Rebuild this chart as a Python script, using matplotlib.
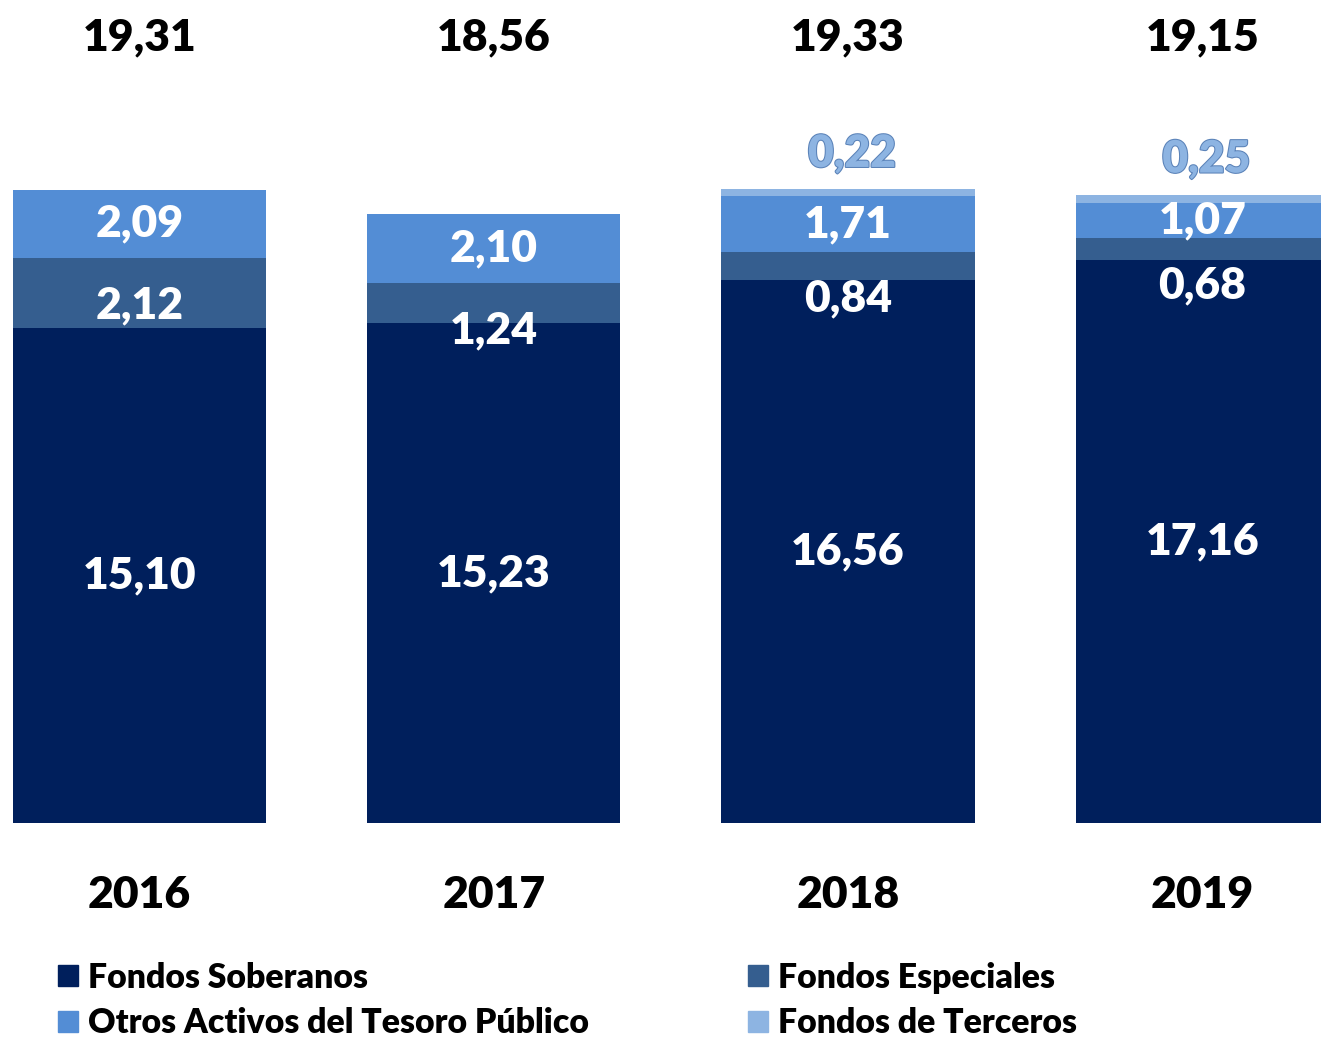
import matplotlib.pyplot as plt
import matplotlib.patheffects as pe
from matplotlib.patches import Patch
import numpy as np

plt.rcParams['font.family'] = ['Lato', 'DejaVu Sans']
plt.rcParams['font.weight'] = 'heavy'

# Data (miles de millones)
years = ['2016', '2017', '2018', '2019']
soberanos = [15.10, 15.23, 16.56, 17.16]
especiales = [2.12, 1.24, 0.84, 0.68]
otros = [2.09, 2.10, 1.71, 1.07]
terceros = [0.0, 0.0, 0.22, 0.25]
totales = [19.31, 18.56, 19.33, 19.15]

c_sob = '#001F5C'
c_esp = '#355E8F'
c_otr = '#538DD5'
c_ter = '#8DB4E2'

def fmt(v):
    return '{:.2f}'.format(v).replace('.', ',')

x = np.arange(len(years))
width = 0.715

fig = plt.figure(figsize=(13.21, 10.43), dpi=100)
ax = fig.add_axes([0, 0.2109, 1, 0.7891])

b1 = np.array(soberanos)
b2 = b1 + np.array(especiales)
b3 = b2 + np.array(otros)

ax.bar(x, soberanos, width, color=c_sob)
ax.bar(x, especiales, width, bottom=b1, color=c_esp)
ax.bar(x, otros, width, bottom=b2, color=c_otr)
ax.bar(x, terceros, width, bottom=b3, color=c_ter)

ax.set_xlim(-0.394, 3.335)
ax.set_ylim(0, 25.09)
ax.axis('off')

fs = 32
# soberanos labels (centered)
for i, v in enumerate(soberanos):
    ax.text(x[i], v / 2, fmt(v), ha='center', va='center', color='white', fontsize=fs)

# especiales labels (placed a bit below the segment middle)
esp_shift = [12, 27, 32, 36]
for i, v in enumerate(especiales):
    ax.annotate(fmt(v), xy=(x[i], b1[i] + v / 2), xytext=(0, -esp_shift[i]),
                textcoords='offset pixels', ha='center', va='center',
                color='white', fontsize=fs)

# otros labels
for i, v in enumerate(otros):
    ax.text(x[i], b2[i] + v / 2, fmt(v), ha='center', va='center', color='white', fontsize=fs)

# terceros labels (above bar, outlined)
for i, v in enumerate(terceros):
    if v > 0:
        t = ax.annotate(fmt(v), xy=(x[i], b3[i] + v), xytext=(4, 35),
                        textcoords='offset pixels', ha='center', va='center',
                        color=c_ter, fontsize=fs)
        t.set_path_effects([pe.withStroke(linewidth=1.5, foreground='#5A82B8')])

# totals at the top
for i, v in enumerate(totales):
    ax.text(x[i], 0.955, fmt(v), transform=ax.get_xaxis_transform(),
            ha='center', va='center', color='black', fontsize=fs)

# year labels under the bars
for i, y in enumerate(years):
    ax.text(x[i], -0.088, y, transform=ax.get_xaxis_transform(),
            ha='center', va='center', color='black', fontsize=fs)

# legend in two columns
lkw = dict(frameon=False, fontsize=24.3, handlelength=0.6, handleheight=0.6,
           handletextpad=0.3, labelspacing=0.40, borderaxespad=0, borderpad=0)
fig.legend([Patch(color=c_sob), Patch(color=c_otr)],
           ['Fondos Soberanos', 'Otros Activos del Tesoro Público'],
           loc='upper left', bbox_to_anchor=(0.044, 0.078), **lkw)
fig.legend([Patch(color=c_esp), Patch(color=c_ter)],
           ['Fondos Especiales', 'Fondos de Terceros'],
           loc='upper left', bbox_to_anchor=(0.566, 0.078), **lkw)

fig.savefig('out.png', dpi=100)
